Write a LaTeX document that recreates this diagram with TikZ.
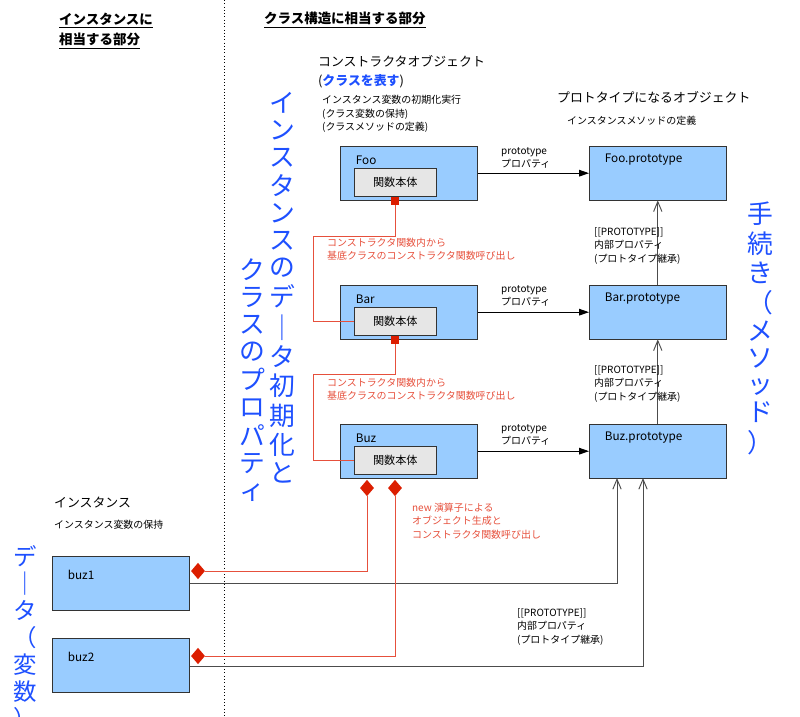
\documentclass[tikz,border=0pt]{standalone}
\usepackage{fontspec}
\setmainfont{Noto Sans CJK JP}
\usetikzlibrary{positioning, arrows.meta, shapes}
\definecolor{boxblue}{RGB}{153,204,255}
\definecolor{bodygray}{RGB}{230,230,230}
\definecolor{linkred}{RGB}{230,80,60}
\definecolor{markred}{RGB}{220,30,0}
\definecolor{bigblue}{RGB}{30,80,255}
\newcommand{\tate}[1]{\begin{tabular}{@{}c@{}}#1\end{tabular}}
\newcommand{\chobo}{｜}

\begin{document}
\begin{tikzpicture}[x=0.03cm, y=-0.03cm,
    objbox/.style={rectangle, draw=black!80, fill=boxblue, anchor=north west,
                   minimum width=117pt, minimum height=46pt, inner sep=0pt},
    bodybox/.style={rectangle, draw=black!80, fill=bodygray, anchor=north west,
                    minimum width=70pt, minimum height=24pt, inner sep=0pt, font=\fontsize{9.5}{11}\selectfont},
    boxlbl/.style={anchor=west, font=\fontsize{10}{12}\selectfont},
    note/.style={anchor=west, align=left, font=\fontsize{8.5}{11.5}\selectfont},
    rednote/.style={note, text=linkred},
    headtxt/.style={anchor=west, align=left, font=\fontsize{11.5}{17}\selectfont\bfseries},
    bigtext/.style={text=bigblue, font=\fontsize{22}{23}\selectfont, inner sep=0pt},
    link/.style={linkred, thick},
    proto/.style={-{Triangle[length=3mm,width=2mm]}, thick},
    inherit/.style={-{Straight Barb[length=3mm,width=2.5mm]}, thick, black!70},
    dia/.style={diamond, fill=markred, inner sep=0pt, minimum width=12pt, minimum height=14pt}
]
    \useasboundingbox (0,0) rectangle (800,716);
    \draw[dotted, thick] (224,0) -- (224,716);

    % Headers
    \node[headtxt] (hinst) at (55,31) {\underline{インスタンスに}\\\underline{相当する部分}};
    \node[headtxt] (hclass) at (260,20) {\underline{クラス構造に相当する部分}};
    \node[anchor=west, align=left, font=\fontsize{11}{16}\selectfont] (ctitle) at (314,72)
        {コンストラクタオブジェクト\\({\color{bigblue}\bfseries クラスを表す})};
    \node[note] (cnote) at (318,114) {インスタンス変数の初期化実行\\(クラス変数の保持)\\(クラスメソッドの定義)};
    \node[anchor=west, font=\fontsize{11}{13}\selectfont] (ptitle) at (553,97) {プロトタイプになるオブジェクト};
    \node[note] (pnote) at (563,121) {インスタンスメソッドの定義};

    % Big labels
    \node[bigtext, anchor=north] (bigA) at (282,92) {\tate{イ\\ン\\ス\\タ\\ン\\ス\\の\\デ\\\chobo\\タ\\初\\期\\化\\と}};
    \node[bigtext, anchor=north] (bigB) at (252,258) {\tate{ク\\ラ\\ス\\の\\プ\\ロ\\パ\\テ\\ィ}};
    \node[bigtext, anchor=north] (bigC) at (760,202) {\tate{手\\続\\き\\（\\メ\\ソ\\ッ\\ド\\）}};
    \node[bigtext, anchor=north, font=\fontsize{20}{20.3}\selectfont] (bigD) at (25,545) {\tate{デ\\\chobo\\タ\\（\\変\\数\\）}};

    % Constructors
    \node[objbox] (foo) at (340,146) {};
    \node[objbox] (bar) at (340,285) {};
    \node[objbox] (buz) at (340,424) {};
    \foreach \c/\t in {foo/Foo, bar/Bar, buz/Buz} {
        \node[boxlbl] at ([xshift=10pt, yshift=-12pt]\c.north west) {\t};
        \node[bodybox] (\c body) at ([xshift=12pt, yshift=-19pt]\c.north west) {関数本体};
    }

    % Prototypes
    \node[objbox] (foop) at (589,146) {};
    \node[objbox] (barp) at (589,285) {};
    \node[objbox] (buzp) at (589,424) {};
    \foreach \c/\t in {foop/Foo.prototype, barp/Bar.prototype, buzp/Buz.prototype}
        \node[boxlbl] at ([xshift=10pt, yshift=-12pt]\c.north west) {\t};

    % Instances
    \node[anchor=west, font=\fontsize{11}{13}\selectfont] (itit) at (50,503) {インスタンス};
    \node[note] (inote) at (50,525) {インスタンス変数の保持};
    \node[objbox] (buz1) at (52,556) {};
    \node[objbox] (buz2) at (52,638) {};
    \node[boxlbl] at ([xshift=10pt, yshift=-16pt]buz1.north west) {buz1};
    \node[boxlbl] at ([xshift=10pt, yshift=-16pt]buz2.north west) {buz2};

    % prototype links
    \foreach \a/\b/\y in {foo/foop/151, bar/barp/289, buz/buzp/428} {
        \draw[proto] (\a) -- (\b);
        \node[note] at (497,\y+7) {prototype\\プロパティ};
    }
    \draw[inherit] (buzp) -- (barp);
    \draw[inherit] (barp) -- (foop);
    \node[note] (inh1) at (590,246) {[[PROTOTYPE]]\\内部プロパティ\\(プロトタイプ継承)};
    \node[note] (inh2) at (590,384) {[[PROTOTYPE]]\\内部プロパティ\\(プロトタイプ継承)};
    \node[note] (inh3) at (513,627) {[[PROTOTYPE]]\\内部プロパティ\\(プロトタイプ継承)};
    \coordinate (p1) at (617,478);
    \coordinate (p2) at (643,478);
    \draw[inherit] (buz1.east |- 0,583) -| (p1);
    \draw[inherit] (buz2.east |- 0,666) -| (p2);

    % Constructor calls
    \node[rectangle, fill=markred, minimum size=6pt, inner sep=0pt] (sq1) at (395,201) {};
    \node[rectangle, fill=markred, minimum size=6pt, inner sep=0pt] (sq2) at (395,340) {};
    \draw[link] (sq1) |- (313,236) |- (barbody.west);
    \draw[link] (sq2) |- (313,374) |- (buzbody.west);
    \node[rednote] (call1) at (323,249) {コンストラクタ関数内から\\基底クラスのコンストラクタ関数呼び出し};
    \node[rednote] (call2) at (323,389) {コンストラクタ関数内から\\基底クラスのコンストラクタ関数呼び出し};

    % new
    \node[dia] (d1) at (367,488) {};
    \node[dia] (d2) at (395,488) {};
    \node[dia] (d3) at (198,571) {};
    \node[dia] (d4) at (198,656) {};
    \draw[link] (d1) |- (d3);
    \draw[link] (d2) |- (d4);
    \node[rednote] (newnote) at (408,521) {new 演算子による\\オブジェクト生成と\\コンストラクタ関数呼び出し};
\end{tikzpicture}
\end{document}
